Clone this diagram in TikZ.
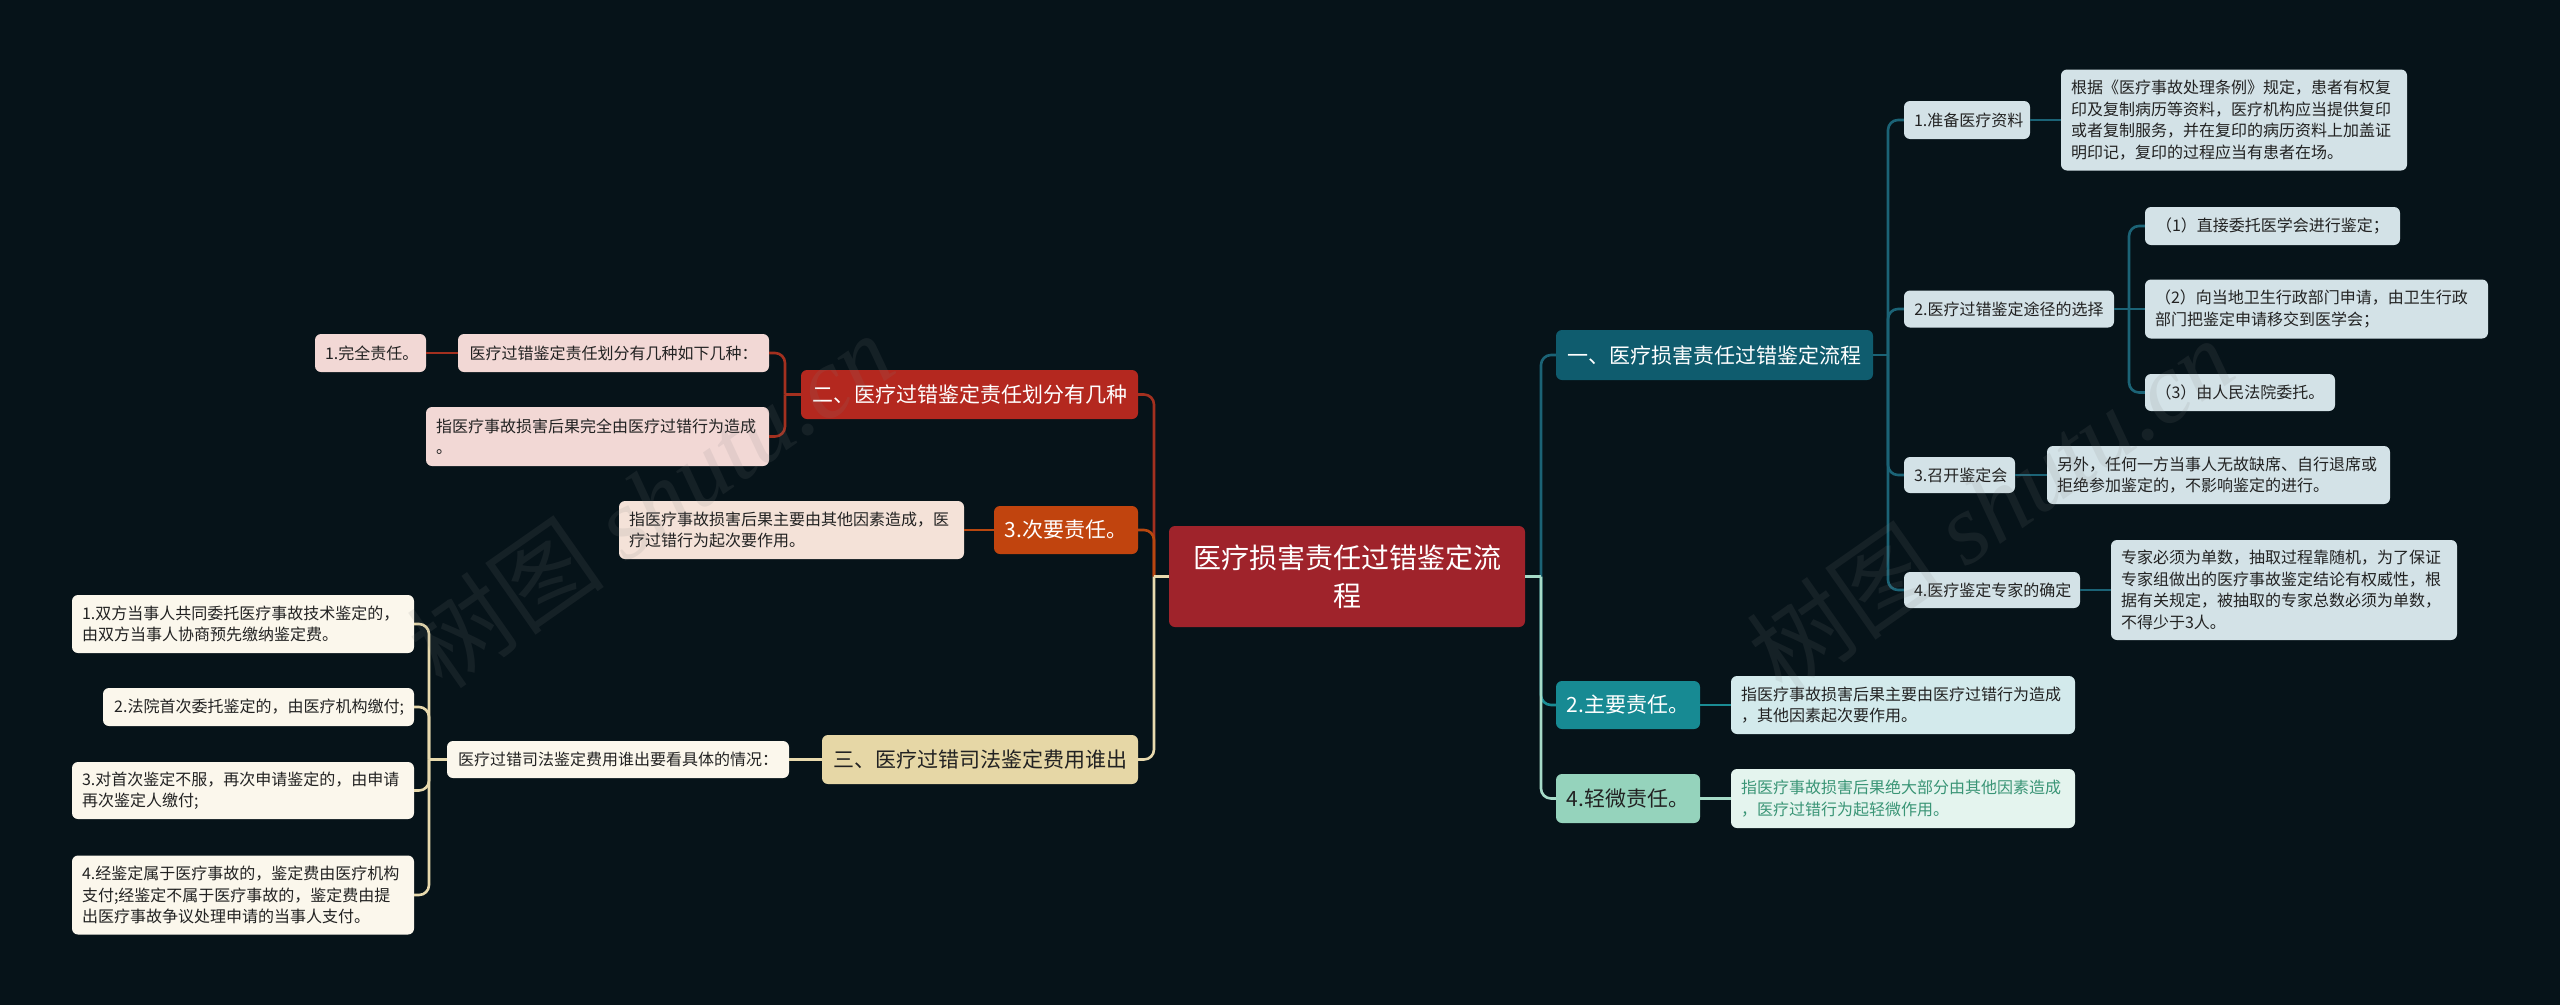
\documentclass[tikz,border=0pt]{standalone}
\usepackage{fontspec}
\setmainfont{Noto Sans CJK SC}
\newfontfamily\wmfont{Liberation Serif}
\definecolor{bg}{HTML}{061319}
\definecolor{cRoot}{HTML}{9F232B}
\definecolor{cA}{HTML}{0F5C6E}
\definecolor{cAs}{HTML}{D3E2E7}
\definecolor{cB}{HTML}{178A93}
\definecolor{cBs}{HTML}{D3EAEC}
\definecolor{cC}{HTML}{95D3BC}
\definecolor{cCs}{HTML}{E4F4EE}
\definecolor{tC}{HTML}{3A9576}
\definecolor{cD}{HTML}{B4281F}
\definecolor{cDs}{HTML}{F2D8D5}
\definecolor{cE}{HTML}{C1440E}
\definecolor{cEs}{HTML}{F4E2D8}
\definecolor{cF}{HTML}{E6D7A6}
\definecolor{cFs}{HTML}{FBF7EC}
\definecolor{tDark}{HTML}{222222}
\definecolor{lA}{HTML}{1B6376}
\definecolor{lB}{HTML}{1A8C94}
\definecolor{lC}{HTML}{A6DBC8}
\definecolor{lD}{HTML}{A3301F}
\definecolor{lE}{HTML}{B8470F}
\definecolor{lF}{HTML}{E8DAAE}
\tikzset{
  nd/.style={rounded corners=6pt, inner ysep=0pt, inner xsep=10pt},
  sm/.style={nd, font=\fontsize{16}{21.5}\selectfont, text=tDark},
  lv/.style={nd, font=\fontsize{21}{26}\selectfont},
  ln/.style={line width=2.6pt},
  br/.style={line width=2.6pt, rounded corners=10pt}
}
\begin{document}
\begin{tikzpicture}[x=1pt,y=-1pt]
\fill[bg] (0,0) rectangle (2560,1005);
\useasboundingbox (0,0) rectangle (2560,1005);

% trunk coordinates
\coordinate (tR) at (1541,0);
\coordinate (tA) at (1888,0);
\coordinate (tA2) at (2129,0);
\coordinate (tL) at (1154,0);
\coordinate (tD) at (785,0);
\coordinate (tF) at (429,0);

% root
\node[nd, fill=cRoot, text=white, font=\fontsize{28}{38}\selectfont, text width=336pt, minimum height=101pt, align=center] (root) at (1347,576.5) {医疗损害责任过错鉴定流\\程};

% right side
\node[lv, fill=cA, text=white, text width=297pt, minimum height=50pt, align=center] (A) at (1714.5,355) {一、医疗损害责任过错鉴定流程};
\node[sm, fill=cAs, text width=106pt, minimum height=38pt, align=center] (A1) at (1967,120) {1.准备医疗资料};
\node[sm, fill=cAs, text width=326pt, minimum height=101pt, align=left] (A1d) at (2234,120) {根据《医疗事故处理条例》规定，患者有权复\\印及复制病历等资料，医疗机构应当提供复印\\或者复制服务，并在复印的病历资料上加盖证\\明印记，复印的过程应当有患者在场。};
\node[sm, fill=cAs, text width=190pt, minimum height=37pt, align=center] (A2) at (2009,309) {2.医疗过错鉴定途径的选择};
\node[sm, fill=cAs, text width=235pt, minimum height=38pt, align=center] (A2a) at (2272.5,226) {（1）直接委托医学会进行鉴定；};
\node[sm, fill=cAs, text width=323pt, minimum height=59pt, align=left] (A2b) at (2316.5,309) {（2）向当地卫生行政部门申请，由卫生行政\\部门把鉴定申请移交到医学会；};
\node[sm, fill=cAs, text width=170pt, minimum height=37pt, align=center] (A2c) at (2240,392.5) {（3）由人民法院委托。};
\node[sm, fill=cAs, text width=91pt, minimum height=36pt, align=center] (A3) at (1959.5,475) {3.召开鉴定会};
\node[sm, fill=cAs, text width=323pt, minimum height=58pt, align=left] (A3d) at (2218.5,475) {另外，任何一方当事人无故缺席、自行退席或\\拒绝参加鉴定的，不影响鉴定的进行。};
\node[sm, fill=cAs, text width=156pt, minimum height=36pt, align=center] (A4) at (1992,590) {4.医疗鉴定专家的确定};
\node[sm, fill=cAs, text width=326pt, minimum height=100pt, align=left] (A4d) at (2284,590) {专家必须为单数，抽取过程靠随机，为了保证\\专家组做出的医疗事故鉴定结论有权威性，根\\据有关规定，被抽取的专家总数必须为单数，\\不得少于3人。};
\node[lv, fill=cB, text=white, text width=124pt, minimum height=48pt, align=center] (B) at (1628,705) {2.主要责任。};
\node[sm, fill=cBs, text width=324pt, minimum height=58pt, align=left] (Bd) at (1903,705) {指医疗事故损害后果主要由医疗过错行为造成\\，其他因素起次要作用。};
\node[lv, fill=cC, text=tDark, text width=124pt, minimum height=49pt, align=center] (C) at (1628,798.5) {4.轻微责任。};
\node[sm, fill=cCs, text=tC, text width=324pt, minimum height=59pt, align=left] (Cd) at (1903,798.5) {指医疗事故损害后果绝大部分由其他因素造成\\，医疗过错行为起轻微作用。};

% left side
\node[lv, fill=cD, text=white, text width=317pt, minimum height=49pt, align=center] (D) at (969.5,394.5) {二、医疗过错鉴定责任划分有几种};
\node[sm, fill=cDs, text width=291pt, minimum height=38pt, align=center] (D1) at (613.5,353) {医疗过错鉴定责任划分有几种如下几种：};
\node[sm, fill=cDs, text width=91pt, minimum height=38pt, align=center] (D1a) at (370.5,353) {1.完全责任。};
\node[sm, fill=cDs, text width=323pt, minimum height=59pt, align=left] (D2) at (597.5,436.5) {指医疗事故损害后果完全由医疗过错行为造成\\。};
\node[lv, fill=cE, text=white, text width=124pt, minimum height=48pt, align=center] (E) at (1066,530) {3.次要责任。};
\node[sm, fill=cEs, text width=325pt, minimum height=58pt, align=left] (Ed) at (791.5,530) {指医疗事故损害后果主要由其他因素造成，医\\疗过错行为起次要作用。};
\node[lv, fill=cF, text=tDark, text width=296pt, minimum height=49pt, align=center] (F) at (980,759.5) {三、医疗过错司法鉴定费用谁出};
\node[sm, fill=cFs, text width=322pt, minimum height=37pt, align=center] (F1) at (618,759.5) {医疗过错司法鉴定费用谁出要看具体的情况：};
\node[sm, fill=cFs, text width=322pt, minimum height=58pt, align=left] (F1a) at (243,624) {1.双方当事人共同委托医疗事故技术鉴定的，\\由双方当事人协商预先缴纳鉴定费。};
\node[sm, fill=cFs, text width=291pt, minimum height=38pt, align=right] (F1b) at (258.5,707) {2.法院首次委托鉴定的，由医疗机构缴付;};
\node[sm, fill=cFs, text width=322pt, minimum height=57pt, align=left] (F1c) at (243,790.5) {3.对首次鉴定不服，再次申请鉴定的，由申请\\再次鉴定人缴付;};
\node[sm, fill=cFs, text width=322pt, minimum height=79pt, align=left] (F1d) at (243,895) {4.经鉴定属于医疗事故的，鉴定费由医疗机构\\支付;经鉴定不属于医疗事故的，鉴定费由提\\出医疗事故争议处理申请的当事人支付。};

% connectors: right
\draw[ln, lA] (root.east) -- (root.east -| tR);
\draw[br, lA] (root.east -| tR) |- (A.west);
\draw[br, lB] (root.east -| tR) |- (B.west);
\draw[br, lC] (root.east -| tR) |- (C.west);
\draw[ln, lC] (root.east) -- (root.east -| tR);

\draw[ln, lA] (A.east) -- (A.east -| tA);
\draw[br, lA] (A.east -| tA) |- (A1.west);
\draw[br, lA] (A.east -| tA) |- (A2.west);
\draw[br, lA] (A.east -| tA) |- (A3.west);
\draw[br, lA] (A.east -| tA) |- (A4.west);
\draw[ln, lA] (A1.east) -- (A1d.west);
\draw[ln, lA] (A2.east) -- (A2.east -| tA2);
\draw[br, lA] (A2.east -| tA2) |- (A2a.west);
\draw[ln, lA] (A2.east -| tA2) -- (A2b.west);
\draw[br, lA] (A2.east -| tA2) |- (A2c.west);
\draw[ln, lA] (A3.east) -- (A3d.west);
\draw[ln, lA] (A4.east) -- (A4d.west);
\draw[ln, lB] (B.east) -- (Bd.west);
\draw[ln, lC] (C.east) -- (Cd.west);

% connectors: left
\draw[br, lD] (root.west -| tL) |- (D.east);
\draw[br, lE] (root.west -| tL) |- (E.east);
\draw[br, lF] (root.west -| tL) |- (F.east);
\draw[ln, lF] (root.west) -- (root.west -| tL);

\draw[ln, lD] (D.west) -- (D.west -| tD);
\draw[br, lD] (D.west -| tD) |- (D1.east);
\draw[br, lD] (D.west -| tD) |- (D2.east);
\draw[ln, lD] (D1.west) -- (D1a.east);
\draw[ln, lE] (E.west) -- (Ed.east);
\draw[ln, lF] (F.west) -- (F1.east);
\draw[ln, lF] (F1.west) -- (F1.west -| tF);
\draw[br, lF] (F1.west -| tF) |- (F1a.east);
\draw[br, lF] (F1.west -| tF) |- (F1b.east);
\draw[br, lF] (F1.west -| tF) |- (F1c.east);
\draw[br, lF] (F1.west -| tF) |- (F1d.east);

% watermarks
\node[rotate=35, text=gray, opacity=0.13, font=\fontsize{100}{110}\selectfont] (wm1) at (650,500) {树图 {\wmfont\itshape shutu.cn}};
\node[rotate=35, text=gray, opacity=0.13, font=\fontsize{100}{110}\selectfont] (wm2) at (1990,505) {树图 {\wmfont\itshape shutu.cn}};
\end{tikzpicture}
\end{document}
